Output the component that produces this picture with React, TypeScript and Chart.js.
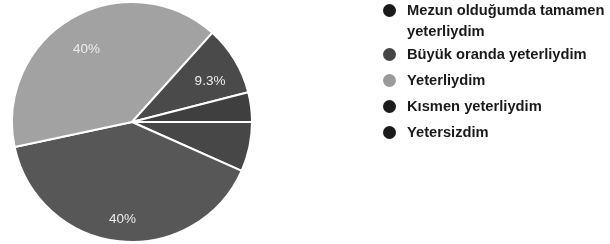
import React, { useEffect, useRef } from "react";
import { Chart, registerables } from "chart.js";

Chart.register(...registerables);

const categories = [
  "Mezun olduğumda tamamen yeterliydim",
  "Büyük oranda yeterliydim",
  "Yeterliydim",
  "Kısmen yeterliydim",
  "Yetersizdim",
];
const counts = [5, 30, 30, 7, 3];
const sliceColors = ["#474747", "#575757", "#a2a2a2", "#4a4a4a", "#3f3f3f"];
const legendColors = ["#1a1a1a", "#454545", "#9a9a9a", "#1c1c1c", "#1a1a1a"];
const labelThreshold = 0.08;

const sliceLabelPlugin = {
  id: "sliceLabels",
  afterDatasetsDraw(chart: any) {
    const ctx = chart.ctx;
    const meta = chart.getDatasetMeta(0);
    const data = chart.data.datasets[0].data as number[];
    const total = data.reduce((a, b) => a + b, 0);
    ctx.save();
    ctx.font = "13.5px 'Liberation Sans', Arial, sans-serif";
    ctx.fillStyle = "#ececec";
    ctx.textAlign = "center";
    ctx.textBaseline = "top";
    meta.data.forEach((arc: any, i: number) => {
      const frac = data[i] / total;
      if (frac < labelThreshold) return;
      const p = arc.getProps(["x", "y", "startAngle", "endAngle", "outerRadius"], true);
      const mid = (p.startAngle + p.endAngle) / 2;
      const r = p.outerRadius * 0.76;
      const pct = Math.round(frac * 1000) / 10;
      ctx.fillText(pct + "%", p.x + Math.cos(mid) * r, p.y + Math.sin(mid) * r);
    });
    ctx.restore();
  },
};

export default function App() {
  const ref = useRef<HTMLCanvasElement | null>(null);
  useEffect(() => {
    if (!ref.current) return;
    const chart = new Chart(ref.current, {
      type: "pie",
      data: {
        labels: categories,
        datasets: [
          {
            data: counts,
            backgroundColor: sliceColors,
            borderColor: "#ffffff",
            borderWidth: 2,
          },
        ],
      },
      options: {
        animation: false,
        responsive: false,
        rotation: 90,
        layout: { padding: { left: 11, right: 357, top: 1, bottom: 1 } },
        plugins: { legend: { display: false }, tooltip: { enabled: false } },
      },
      plugins: [sliceLabelPlugin],
    });
    return () => chart.destroy();
  }, []);

  return (
    <div
      style={{
        position: "fixed",
        left: 0,
        top: 0,
        width: 610,
        height: 244,
        overflow: "hidden",
        background: "#fff",
      }}
    >
      <canvas ref={ref} width={610} height={244} style={{ position: "absolute", left: 0, top: 0 }} />
      <div
        style={{
          position: "absolute",
          left: 383,
          top: 0,
          width: 240,
          fontFamily: "'Liberation Sans', Arial, sans-serif",
          fontWeight: "bold",
          fontSize: 14.7,
          lineHeight: "21px",
          color: "#1a1a1a",
        }}
      >
        {categories.map((c, i) => (
          <div
            key={c}
            style={{ display: "flex", alignItems: "flex-start", marginBottom: i === 0 ? 2 : 5 }}
          >
            <span
              style={{
                width: 13,
                height: 13,
                borderRadius: "50%",
                background: legendColors[i],
                flex: "0 0 13px",
                marginTop: 4,
                marginRight: 11,
              }}
            />
            <span style={{ width: 205 }}>{c}</span>
          </div>
        ))}
      </div>
    </div>
  );
}
